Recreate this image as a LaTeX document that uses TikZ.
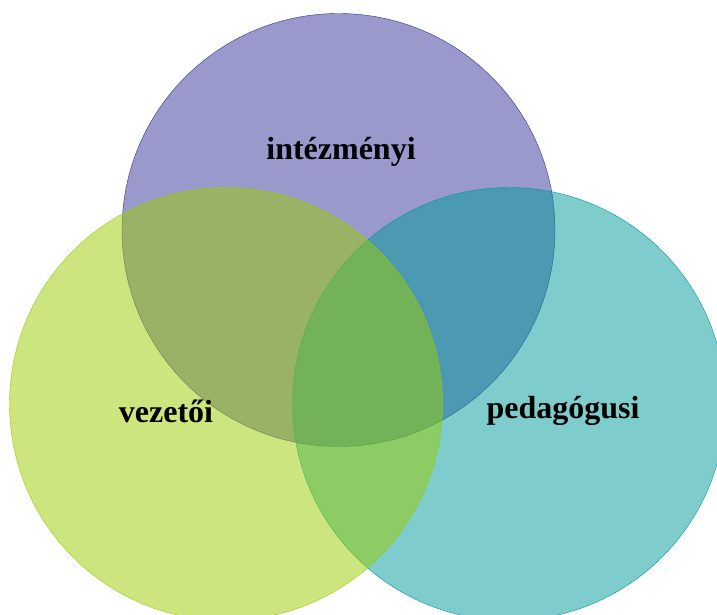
\documentclass[tikz,border=0pt]{standalone}
\usepackage{fontspec}
\setmainfont{Liberation Serif}
\usepackage{tikz}

\definecolor{instcol}{HTML}{333399}
\definecolor{leadcol}{HTML}{99CC00}
\definecolor{teachcol}{HTML}{009999}

\begin{document}
\begin{tikzpicture}[x=1pt,y=-1pt,
  set/.style={circle,draw,thin,fill opacity=0.5,minimum size=433pt,inner sep=0pt},
  lbl/.style={font=\fontsize{32}{38}\selectfont\bfseries,text=black}]

\useasboundingbox (0,0) rectangle (717,615);
\clip (0,0) rectangle (717,615);

\node[set,draw=instcol,fill=instcol]     (inst)  at (338.5,230) {};
\node[set,draw=teachcol,fill=teachcol]   (teach) at (509,404)   {};
\node[set,draw=leadcol,fill=leadcol]     (lead)  at (226,404)   {};

\node[lbl] (instlbl)  at (341,152) {intézményi};
\node[lbl] (leadlbl)  at (166,411) {vezetői};
\node[lbl] (teachlbl) at (563,411) {pedagógusi};

\end{tikzpicture}
\end{document}
